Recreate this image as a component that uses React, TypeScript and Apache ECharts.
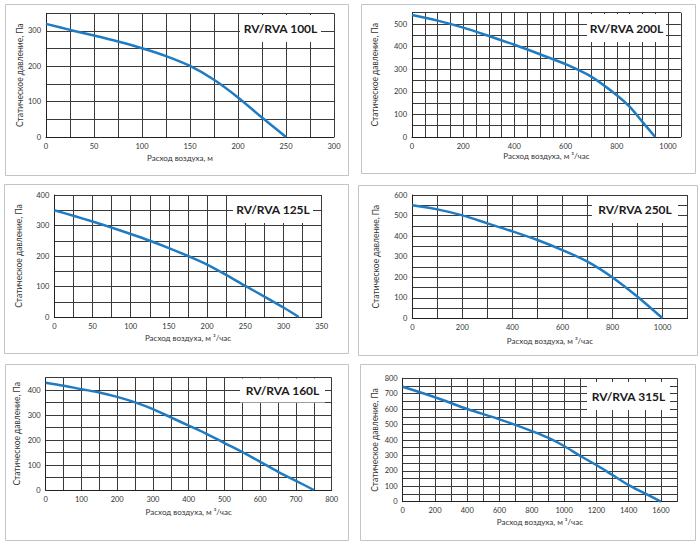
import React, { useEffect, useRef } from "react";
import * as echarts from "echarts";

// ---- data ----
const flow100 = [0, 25, 50, 75, 100, 125, 150, 175, 200, 225, 250];
const pressure100 = [320, 303, 287, 270, 251, 229, 201, 162, 112, 55, 0];

const flow200 = [0, 100, 200, 300, 400, 500, 600, 700, 800, 850, 900, 950];
const pressure200 = [540, 515, 484, 447, 408, 366, 322, 267, 185, 134, 67, 0];

const flow125 = [0, 25, 50, 75, 100, 125, 150, 175, 200, 225, 250, 275, 300, 320];
const pressure125 = [350, 332, 313, 293, 272, 250, 226, 200, 172, 138, 102, 67, 31, 0];

const flow250 = [0, 100, 200, 300, 400, 500, 600, 700, 800, 900, 1000];
const pressure250 = [550, 530, 501, 462, 423, 381, 332, 276, 199, 105, 0];

const flow160 = [0, 50, 100, 150, 200, 250, 300, 350, 400, 450, 500, 550, 600, 650, 700, 750];
const pressure160 = [430, 418, 404, 391, 373, 351, 324, 291, 258, 225, 188, 152, 113, 73, 37, 0];

const flow315 = [0, 200, 400, 600, 800, 900, 1000, 1100, 1200, 1300, 1400, 1500, 1600];
const pressure315 = [745, 677, 601, 534, 458, 415, 361, 296, 238, 173, 108, 54, 0];

const titles = ["RV/RVA 100L", "RV/RVA 200L", "RV/RVA 125L", "RV/RVA 250L", "RV/RVA 160L", "RV/RVA 315L"];
const xNames = [
  "Расход воздуха, м",
  "Расход воздуха, м ³/час",
  "Расход воздуха, м ³/час",
  "Расход воздуха, м ³/час",
  "Расход воздуха, м ³/час",
  "Расход воздуха, м ³/час",
];
const yName = "Статическое давление, Па";

// tick-label steps per panel
const xLabelSteps = [50, 200, 50, 200, 100, 200];
const yLabelSteps = [100, 100, 100, 100, 100, 100];

const flows = [flow100, flow200, flow125, flow250, flow160, flow315];
const pressures = [pressure100, pressure200, pressure125, pressure250, pressure160, pressure315];

// axis ranges / grid steps
const xMaxes = [300, 1050, 350, 1100, 800, 1700];
const xSteps = [25, 50, 25, 100, 50, 100];
const yMaxes = [350, 550, 400, 600, 450, 800];
const ySteps = [50, 50, 50, 50, 50, 50];
// last labelled x value per panel (labels beyond it are hidden)
const xLabelMax = [300, 1000, 350, 1000, 800, 1600];

// ---- layout (px) ----
const panels = [
  { box: [5, 4, 343, 171], grid: [46, 13.3, 288, 123.7], title: [240, 15, 81, 27], xGap: 17, yGap: 22, xPad: 20 },
  { box: [361, 4, 334, 169], grid: [412, 12.7, 268.8, 124.3], title: [587, 14, 79, 28], xGap: 15, yGap: 33, xPad: 0 },
  { box: [4, 184, 344, 169], grid: [54.3, 195, 267.4, 122], title: [233, 196, 80, 27], xGap: 17, yGap: 31, xPad: 0 },
  { box: [358, 185, 339, 170], grid: [412.3, 195, 275.3, 123.3], title: [592, 196, 86, 27], xGap: 19, yGap: 32, xPad: 0 },
  { box: [5, 364, 343, 176], grid: [45.7, 377.7, 286, 112.3], title: [240, 378.5, 85, 24], xGap: 18, yGap: 24, xPad: 0 },
  { box: [360, 364, 335, 176], grid: [402.7, 378.3, 274.4, 123.4], title: [587, 382, 83, 28], xGap: 16, yGap: 23, xPad: 0 },
];

const FONT = "Lato, 'Liberation Sans', sans-serif";
const GRID_COLOR = "#3a3a3a";
const LINE_COLOR = "#1f7cc3";

export default function App() {
  const ref = useRef<HTMLDivElement>(null);

  useEffect(() => {
    document.body.style.margin = "0";
    const chart = echarts.init(ref.current!, undefined, { renderer: "svg" });

    const grids = panels.map((p) => ({
      left: p.grid[0],
      top: p.grid[1],
      width: p.grid[2],
      height: p.grid[3],
      containLabel: false,
    }));

    const xAxes = panels.map((p, i) => ({
      gridIndex: i,
      type: "value",
      min: 0,
      max: xMaxes[i],
      interval: xSteps[i],
      name: xNames[i],
      nameLocation: "middle",
      nameGap: p.xGap,
      nameTextStyle: {
        fontFamily: FONT,
        fontSize: 8,
        color: "#333",
        padding: [0, p.xPad, 0, 0],
      },
      axisLine: { show: true, onZero: false, lineStyle: { color: "#222", width: 1 } },
      axisTick: { show: false },
      axisLabel: {
        fontFamily: FONT,
        fontSize: 7.5,
        color: "#333",
        margin: 5,
        showMaxLabel: true,
        formatter: (v: number) =>
          v % xLabelSteps[i] === 0 && v <= xLabelMax[i] ? String(v) : "",
      },
      splitLine: { show: true, lineStyle: { color: GRID_COLOR, width: 1 } },
    }));

    const yAxes = panels.map((p, i) => ({
      gridIndex: i,
      type: "value",
      min: 0,
      max: yMaxes[i],
      interval: ySteps[i],
      name: yName,
      nameLocation: "middle",
      nameGap: p.yGap,
      nameTextStyle: { fontFamily: FONT, fontSize: 8.5, color: "#333" },
      axisLine: { show: true, onZero: false, lineStyle: { color: "#222", width: 1 } },
      axisTick: { show: false },
      axisLabel: {
        fontFamily: FONT,
        fontSize: 7.5,
        color: "#333",
        margin: 5,
        formatter: (v: number) => (v % yLabelSteps[i] === 0 ? String(v) : ""),
      },
      splitLine: { show: true, lineStyle: { color: GRID_COLOR, width: 1 } },
    }));

    const series = panels.map((_, i) => ({
      type: "line",
      xAxisIndex: i,
      yAxisIndex: i,
      data: flows[i].map((f, k) => [f, pressures[i][k]]),
      smooth: 0.3,
      symbol: "none",
      lineStyle: { color: LINE_COLOR, width: 2.5 },
      z: 5,
    }));

    const graphics: any[] = [];
    panels.forEach((p, i) => {
      graphics.push({
        type: "rect",
        shape: { x: p.box[0] + 0.5, y: p.box[1] + 0.5, width: p.box[2], height: p.box[3] },
        style: { fill: "none", stroke: "#c4c4c4", lineWidth: 1 },
        z: 1,
      });
      graphics.push({
        type: "rect",
        shape: { x: p.title[0], y: p.title[1], width: p.title[2], height: p.title[3] },
        style: { fill: "#ffffff", stroke: "none" },
        z: 50,
      });
      graphics.push({
        type: "text",
        x: p.title[0] + p.title[2] / 2,
        y: p.title[1] + p.title[3] / 2,
        style: {
          text: titles[i],
          fill: "#1a1a1a",
          font: `bold 12px ${FONT}`,
          align: "center",
          verticalAlign: "middle",
          textAlign: "center",
          textVerticalAlign: "middle",
        },
        z: 51,
      });
    });

    chart.setOption({
      animation: false,
      backgroundColor: "#ffffff",
      grid: grids,
      xAxis: xAxes,
      yAxis: yAxes,
      series,
      graphic: graphics,
    } as any);

    return () => chart.dispose();
  }, []);

  return (
    <div
      ref={ref}
      style={{ position: "absolute", left: 0, top: 0, width: 700, height: 545 }}
    />
  );
}
